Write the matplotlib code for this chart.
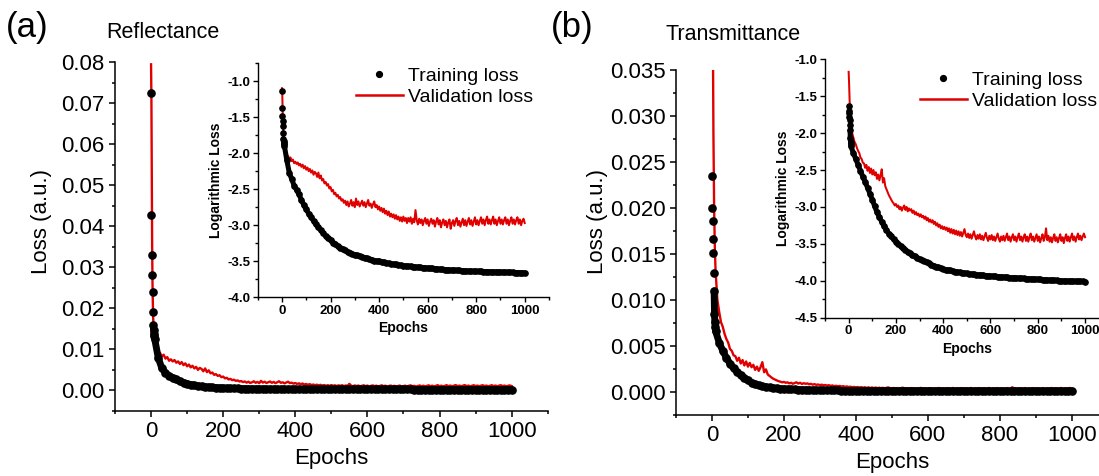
import numpy as np
import matplotlib
matplotlib.use("Agg")
import matplotlib.pyplot as plt
from matplotlib.ticker import MultipleLocator, FormatStrFormatter
from matplotlib.lines import Line2D

plt.rcParams['font.family'] = ['Liberation Sans', 'DejaVu Sans']
plt.rcParams['axes.unicode_minus'] = False

# ---------------- data (log10 of loss) ----------------
train_epochs = list(range(0, 11)) + list(range(20, 1001, 10))
val_epochs = list(range(0, 11)) + list(range(15, 1001, 5))

refl_train_log = [
    -1.14, -1.37, -1.48, -1.55, -1.62, -1.72, -1.80, -1.83, -1.86, -1.88, -1.90,
    -2.10, -2.27, -2.36, -2.45, -2.51, -2.57, -2.65, -2.72, -2.78,
    -2.84, -2.89, -2.94, -2.99, -3.03, -3.07, -3.11, -3.15, -3.18, -3.21,
    -3.24, -3.26, -3.29, -3.31, -3.33, -3.35, -3.37, -3.38, -3.40, -3.41,
    -3.42, -3.43, -3.44, -3.45, -3.46, -3.47, -3.48, -3.49, -3.495, -3.50,
    -3.51, -3.515, -3.52, -3.53, -3.535, -3.54, -3.545, -3.55, -3.555, -3.56,
    -3.565, -3.57, -3.57, -3.575, -3.58, -3.58, -3.585, -3.59, -3.59, -3.595,
    -3.60, -3.60, -3.603, -3.606, -3.61, -3.612, -3.615, -3.618, -3.62, -3.622,
    -3.624, -3.626, -3.628, -3.63, -3.632, -3.634, -3.636, -3.637, -3.638, -3.64,
    -3.641, -3.642, -3.643, -3.644, -3.645, -3.646, -3.647, -3.648, -3.649, -3.65,
    -3.651, -3.652, -3.653, -3.654, -3.655, -3.656, -3.657, -3.658, -3.659, -3.66,
]

refl_val_log = [
    -1.10, -1.15, -1.30, -1.45, -1.58, -1.68, -1.76, -1.82, -1.87, -1.91, -1.94,
    -1.98, -2.03, -2.04, -2.08, -2.06, -2.11, -2.09, -2.14, -2.12, -2.15,
    -2.13, -2.17, -2.15, -2.19, -2.16, -2.21, -2.18, -2.23, -2.20, -2.25,
    -2.22, -2.27, -2.24, -2.30, -2.26, -2.28, -2.33, -2.27, -2.35, -2.31,
    -2.38, -2.36, -2.42, -2.40, -2.45, -2.43, -2.49, -2.47, -2.53, -2.51,
    -2.57, -2.55, -2.60, -2.58, -2.63, -2.61, -2.66, -2.64, -2.69, -2.66,
    -2.72, -2.67, -2.74, -2.70, -2.65, -2.73, -2.68, -2.75, -2.63, -2.72,
    -2.67, -2.74, -2.70, -2.66, -2.73, -2.68, -2.75, -2.70, -2.65, -2.73,
    -2.70, -2.76, -2.71, -2.67, -2.75, -2.72, -2.78, -2.74, -2.80, -2.76,
    -2.82, -2.77, -2.84, -2.80, -2.86, -2.81, -2.88, -2.84, -2.89, -2.85,
    -2.91, -2.86, -2.92, -2.88, -2.94, -2.89, -2.95, -2.88, -2.94, -2.90,
    -2.97, -2.90, -2.95, -2.89, -2.98, -2.91, -2.96, -2.79, -2.93, -2.99,
    -2.91, -2.97, -2.92, -3.00, -2.94, -2.90, -2.98, -2.92, -3.01, -2.95,
    -2.91, -2.98, -2.93, -3.02, -2.95, -2.90, -2.99, -2.93, -3.03, -2.96,
    -2.92, -3.00, -2.94, -3.03, -2.96, -2.92, -3.05, -2.97, -2.93, -3.01,
    -2.94, -2.90, -3.00, -2.94, -3.02, -2.96, -2.91, -3.00, -2.93, -3.01,
    -2.95, -2.90, -2.99, -2.93, -3.01, -2.95, -2.89, -2.99, -2.93, -3.00,
    -2.94, -2.89, -2.98, -2.92, -3.00, -2.93, -2.88, -2.98, -2.92, -2.99,
    -2.93, -2.88, -2.98, -2.92, -3.00, -2.94, -2.89, -2.98, -2.92, -2.99,
    -2.93, -2.89, -2.98, -2.92, -3.00, -2.94, -2.89, -2.98, -2.92, -2.99,
    -2.93, -2.89, -2.98, -2.92, -3.00, -2.94, -2.91, -2.97,
]

trans_train_log = [
    -1.63, -1.70, -1.73, -1.78, -1.82, -1.89, -1.96, -2.07, -2.12, -2.15, -2.18,
    -2.27, -2.35, -2.43, -2.51, -2.59, -2.66, -2.74, -2.82, -2.90,
    -2.99, -3.07, -3.14, -3.20, -3.26, -3.31, -3.36, -3.40, -3.44, -3.47,
    -3.50, -3.53, -3.56, -3.58, -3.61, -3.63, -3.65, -3.67, -3.69, -3.71,
    -3.72, -3.735, -3.75, -3.765, -3.78, -3.795, -3.81, -3.82, -3.83, -3.84,
    -3.85, -3.855, -3.86, -3.87, -3.875, -3.88, -3.885, -3.89, -3.895, -3.90,
    -3.905, -3.91, -3.913, -3.916, -3.92, -3.923, -3.926, -3.93, -3.932, -3.935,
    -3.938, -3.94, -3.943, -3.946, -3.948, -3.95, -3.953, -3.956, -3.958, -3.96,
    -3.962, -3.964, -3.966, -3.968, -3.97, -3.972, -3.974, -3.976, -3.978, -3.98,
    -3.982, -3.984, -3.986, -3.988, -3.99, -3.992, -3.994, -3.996, -3.998, -4.00,
    -4.001, -4.002, -4.003, -4.004, -4.005, -4.006, -4.007, -4.008, -4.009, -4.01,
]

trans_val_log = [
    -1.17, -1.25, -1.33, -1.45, -1.55, -1.63, -1.70, -1.76, -1.81, -1.85, -1.88,
    -2.00, -2.06, -2.12, -2.15, -2.20, -2.24, -2.27, -2.33, -2.35, -2.40,
    -2.41, -2.47, -2.43, -2.51, -2.46, -2.54, -2.48, -2.56, -2.50, -2.57,
    -2.53, -2.62, -2.56, -2.64, -2.57, -2.49, -2.67, -2.61, -2.72, -2.76,
    -2.80, -2.84, -2.87, -2.90, -2.93, -2.95, -2.98, -2.96, -3.00, -2.98,
    -3.03, -3.00, -3.05, -3.01, -2.98, -3.04, -3.00, -3.06, -3.02, -3.05,
    -3.03, -3.08, -3.05, -3.10, -3.07, -3.11, -3.09, -3.13, -3.10, -3.14,
    -3.12, -3.16, -3.13, -3.18, -3.15, -3.20, -3.17, -3.21, -3.18, -3.23,
    -3.20, -3.25, -3.22, -3.27, -3.24, -3.29, -3.26, -3.30, -3.27, -3.31,
    -3.28, -3.33, -3.29, -3.35, -3.30, -3.36, -3.31, -3.37, -3.32, -3.38,
    -3.33, -3.39, -3.34, -3.40, -3.35, -3.30, -3.38, -3.41, -3.36, -3.42,
    -3.37, -3.43, -3.38, -3.33, -3.40, -3.44, -3.38, -3.43, -3.37, -3.44,
    -3.39, -3.45, -3.40, -3.35, -3.42, -3.46, -3.39, -3.44, -3.38, -3.45,
    -3.40, -3.46, -3.41, -3.36, -3.43, -3.47, -3.40, -3.45, -3.39, -3.46,
    -3.41, -3.36, -3.45, -3.40, -3.47, -3.41, -3.37, -3.45, -3.40, -3.47,
    -3.41, -3.36, -3.45, -3.40, -3.47, -3.41, -3.37, -3.46, -3.40, -3.47,
    -3.41, -3.36, -3.45, -3.40, -3.47, -3.42, -3.37, -3.46, -3.40, -3.48,
    -3.42, -3.37, -3.46, -3.41, -3.29, -3.45, -3.39, -3.47, -3.41, -3.48,
    -3.42, -3.37, -3.46, -3.41, -3.48, -3.42, -3.37, -3.46, -3.41, -3.49,
    -3.42, -3.37, -3.46, -3.40, -3.47, -3.41, -3.36, -3.45, -3.40, -3.47,
    -3.41, -3.36, -3.44, -3.39, -3.45, -3.40, -3.36, -3.41,
]

panels = [
    dict(label="(a)", title="Reflectance", train=refl_train_log, val=refl_val_log,
         ylim=(-0.005, 0.08), ystep=0.01, yfmt="%.2f",
         ilim=(-4.0, -0.75)),
    dict(label="(b)", title="Transmittance", train=trans_train_log, val=trans_val_log,
         ylim=(-0.0025, 0.035), ystep=0.005, yfmt="%.3f",
         ilim=(-4.5, -1.0)),
]

W, H = 1099, 476
RED = "#e00000"
BAND_START = 6   # from this index on, consecutive dots overlap into a band

fig = plt.figure(figsize=(W / 100, H / 100), dpi=100)


def px_rect(l, r, top, bottom):
    return [l / W, 1 - bottom / H, (r - l) / W, (bottom - top) / H]


main_rects = [px_rect(115, 547.7, 62, 411), px_rect(676, 1107.7, 69.7, 415)]
inset_rects = [px_rect(257.7, 549, 63, 297.3), px_rect(825, 1108.7, 59.3, 317.7)]
label_pos = [(6, 28), (551, 28)]
title_pos = [(106, 33), (665, 35)]
ylabel_x = [41, 598]
legend_anchor = [(356, 67), (920, 71)]


def style_axes(ax, lw, major_len, minor_len):
    for s in ("top", "right"):
        ax.spines[s].set_visible(False)
    for s in ("left", "bottom"):
        ax.spines[s].set_linewidth(lw)
    ax.tick_params(which="major", direction="out", length=major_len, width=lw)
    ax.tick_params(which="minor", direction="out", length=minor_len, width=lw)


def draw_train(ax, x, y, ms):
    ax.plot(x, y, ls="none", marker="o", ms=ms, color="black", mec="black",
            zorder=3)
    ax.plot(x[BAND_START:], y[BAND_START:], ls="-", lw=ms * 0.95,
            solid_capstyle="round", solid_joinstyle="round", color="black",
            zorder=3)


for i, p in enumerate(panels):
    tr_e = np.array(train_epochs)
    va_e = np.array(val_epochs)
    tr = np.array(p["train"])
    va = np.array(p["val"])

    # ---- main axes (linear loss)
    ax = fig.add_axes(main_rects[i])
    ax.plot(va_e, 10 ** va, color=RED, lw=1.7, zorder=2)
    draw_train(ax, tr_e, 10 ** tr, 5.2)
    ax.set_xlim(-100, 1100)
    ax.set_ylim(*p["ylim"])
    ax.xaxis.set_minor_locator(MultipleLocator(100))
    ax.yaxis.set_minor_locator(MultipleLocator(p["ystep"] / 2))
    ax.yaxis.set_major_formatter(FormatStrFormatter(p["yfmt"]))
    style_axes(ax, 1.1, 4.5, 2.5)
    ax.tick_params(labelsize=16, pad=3)
    ax.set_xticks([t for t in range(0, 1001, 200)])
    ax.set_yticks(np.arange(0, p["ylim"][1] + 1e-9, p["ystep"]))
    ax.set_xlabel("Epochs", fontsize=16, labelpad=4)
    fig.text(ylabel_x[i] / W, 1 - 222 / H, "Loss (a.u.)", rotation=90,
             fontsize=16, ha="center", va="center")

    fig.text(label_pos[i][0] / W, 1 - label_pos[i][1] / H, p["label"],
             fontsize=25, ha="left", va="center")
    fig.text(title_pos[i][0] / W, 1 - title_pos[i][1] / H, p["title"],
             fontsize=15.5, ha="left", va="center")

    # ---- inset (log loss)
    ai = fig.add_axes(inset_rects[i])
    ai.plot(va_e, va, color=RED, lw=1.45, zorder=2)
    draw_train(ai, tr_e, tr, 3.8)
    ai.set_xlim(-100, 1100)
    ai.set_ylim(*p["ilim"])
    ai.set_xticks(list(range(0, 1001, 200)))
    ai.xaxis.set_minor_locator(MultipleLocator(100))
    ai.set_yticks(np.arange(p["ilim"][0], -0.99, 0.5))
    ai.yaxis.set_minor_locator(MultipleLocator(0.25))
    ai.yaxis.set_major_formatter(FormatStrFormatter("%.1f"))
    style_axes(ai, 1.0, 3.5, 2.0)
    ai.tick_params(labelsize=9.5, pad=2)
    for t in ai.get_xticklabels() + ai.get_yticklabels():
        t.set_fontweight("bold")
    ai.set_xlabel("Epochs", fontsize=10, fontweight="bold", labelpad=3)
    ai.set_ylabel("Logarithmic Loss", fontsize=10, fontweight="bold", labelpad=3)
    ai.patch.set_alpha(0)

    handles = [
        Line2D([], [], ls="none", marker="o", ms=4.2, color="black"),
        Line2D([], [], color=RED, lw=1.8),
    ]
    fig.legend(handles, ["Training loss", "Validation loss"],
               loc="upper left",
               bbox_to_anchor=(legend_anchor[i][0] / W, 1 - legend_anchor[i][1] / H),
               bbox_transform=fig.transFigure, frameon=False, fontsize=14,
               handlelength=2.4, handletextpad=0.25, labelspacing=0.2,
               borderpad=0, borderaxespad=0)

fig.savefig("out.png", dpi=100)
